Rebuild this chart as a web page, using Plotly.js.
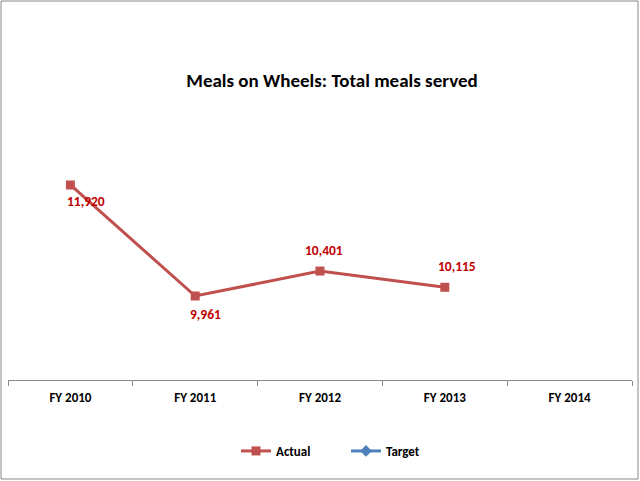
<!DOCTYPE html>
<html>
<head>
<meta charset="utf-8">
<script src="https://cdn.plot.ly/plotly-3.0.1.min.js"></script>
<style>
html,body{margin:0;padding:0;background:#fff;}
#chart{width:640px;height:481px;}
</style>
</head>
<body>
<div id="chart"></div>
<script>
const categories = ["FY 2010", "FY 2011", "FY 2012", "FY 2013", "FY 2014"];
const actual = [11920, 9961, 10401, 10115, null];
const target = [null, null, null, null, null];
const labelText = ["11,920", "9,961", "10,401", "10,115"];
const labelDx = [16, 10, 4, 12];
const labelDy = [-17, -18, 21, 21];

const font = "Calibri, Carlito, 'Open Sans', 'Liberation Sans', sans-serif";

const traces = [
  {
    x: categories, y: actual, name: "Actual", type: "scatter", mode: "lines+markers",
    line: {color: "#C0504D", width: 3},
    marker: {symbol: "square", size: 9, color: "#C0504D"},
    cliponaxis: false
  },
  {
    x: categories, y: target, name: "Target", type: "scatter", mode: "lines+markers",
    line: {color: "#4F81BD", width: 3},
    marker: {symbol: "diamond", size: 9, color: "#4F81BD"}
  }
];

const annotations = labelText.map((t, i) => ({
  x: categories[i], y: actual[i], text: t, showarrow: false,
  xshift: labelDx[i], yshift: labelDy[i],
  font: {family: font, size: 13.5, color: "#C00000", weight: "bold"}
}));

const layout = {
  width: 640, height: 481,
  margin: {l: 8, r: 8, t: 120, b: 101},
  paper_bgcolor: "#fff", plot_bgcolor: "#fff",
  font: {family: font},
  title: {
    text: "<b>Meals on Wheels: Total meals served</b>",
    x: 332/640, xanchor: "center", y: 1 - 80/481, yanchor: "middle",
    font: {family: font, size: 19, color: "#000"}
  },
  xaxis: {
    type: "category", range: [-0.5, 4.5],
    showline: true, linecolor: "#888", linewidth: 1,
    ticks: "outside", tickson: "boundaries", ticklen: 5, tickcolor: "#888",
    ticklabelstandoff: 5,
    showgrid: false, zeroline: false,
    tickfont: {family: font, size: 13, color: "#000", weight: "bold"}
  },
  yaxis: {
    range: [8478.5, 13067], visible: false, showgrid: false, zeroline: false
  },
  showlegend: true,
  legend: {
    orientation: "h", x: (236-8)/624, xanchor: "left", y: (380-451)/260, yanchor: "middle",
    font: {family: font, size: 13, color: "#000", weight: "bold"},
    itemwidth: 30, entrywidth: 65, entrywidthmode: "pixels"
  },
  annotations: annotations,
  shapes: [{
    type: "rect", xref: "paper", yref: "paper",
    x0: (1-8)/624, x1: (638-8)/624, y0: (380-479)/260, y1: (380-1)/260,
    line: {color: "#888", width: 1}
  }]
};

Plotly.newPlot("chart", traces, layout, {displayModeBar: false, staticPlot: true});
</script>
</body>
</html>
